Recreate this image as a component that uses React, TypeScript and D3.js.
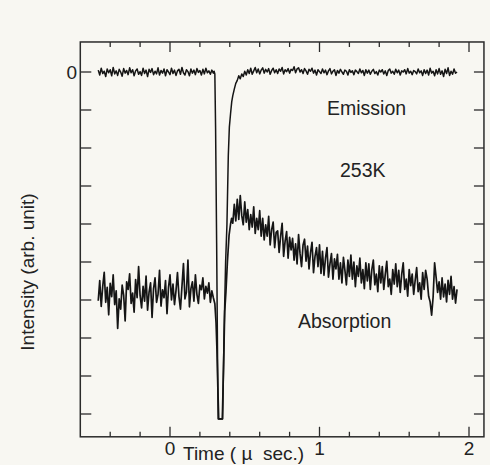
import React from "react";
import * as d3 from "d3";

const preStart = -0.48;
const postStart = 0.42;
const sampleStep = 0.01;

// Emission trace, before the flash (t = -0.48 .. 0.29)
const emissionPre = [
  0.05,-0.08,0.10,-0.04,0.02,-0.12,0.08,-0.02,0.06,-0.10,
  0.12,-0.05,0.03,-0.09,0.07,0.00,-0.11,0.09,-0.03,0.04,
  -0.07,0.11,-0.02,0.06,-0.10,0.03,0.08,-0.06,0.01,-0.09,
  0.10,-0.04,0.05,-0.12,0.07,-0.01,0.09,-0.07,0.02,-0.05,
  0.11,-0.08,0.04,-0.03,0.08,-0.10,0.06,0.00,-0.07,0.10,
  -0.04,0.05,-0.09,0.03,0.07,-0.06,0.12,-0.02,-0.08,0.06,
  0.01,-0.10,0.08,-0.03,0.05,-0.07,0.09,-0.01,0.04,-0.08,
  0.07,-0.05,0.10,-0.02,0.03,-0.06,0.05,-0.03,
];
// Emission trace through the dip: [time, value]
const emissionDip: [number, number][] = [
  [0.295, 0.02],[0.300, -0.05],[0.305, -1.5],[0.312, -4.5],[0.318, -7.5],
  [0.322, -9.13],[0.352, -9.13],[0.362, -6.8],[0.372, -5.0],[0.381, -4.0],
  [0.390, -2.2],[0.397, -1.45],[0.405, -1.1],[0.413, -0.78],
];
// Emission trace after the flash (t = 0.42 .. 1.92)
const emissionPost = [
  -0.62,-0.45,-0.30,-0.22,-0.10,-0.18,-0.05,-0.12,0.02,-0.08,
  0.06,-0.04,0.10,-0.06,0.03,0.12,-0.02,0.08,-0.05,0.05,
  0.11,-0.03,0.07,0.00,0.09,-0.06,0.04,0.10,-0.02,0.06,
  -0.04,0.08,0.02,0.12,-0.05,0.06,0.01,0.09,-0.03,0.07,
  0.04,0.14,-0.02,0.08,0.11,0.00,0.06,-0.04,0.09,0.03,
  -0.06,0.07,0.02,0.10,-0.03,0.05,-0.08,0.06,0.01,-0.04,
  0.08,-0.02,0.05,-0.07,0.03,0.09,-0.05,0.02,0.06,-0.09,
  0.04,-0.03,0.07,0.00,-0.06,0.05,0.02,-0.08,0.06,-0.01,
  0.03,-0.07,0.05,0.01,-0.04,0.08,-0.02,0.04,-0.09,0.06,
  -0.03,0.05,-0.06,0.02,0.07,-0.04,0.01,-0.08,0.05,0.00,
  0.06,-0.05,0.03,-0.09,0.04,0.08,-0.03,0.02,-0.06,0.07,
  -0.02,0.05,-0.08,0.03,0.00,0.06,-0.05,0.09,-0.03,0.02,
  -0.07,0.04,0.01,-0.05,0.08,-0.02,0.03,-0.09,0.06,-0.04,
  0.05,-0.08,0.10,-0.03,0.02,-0.10,0.06,-0.05,0.09,-0.06,
  0.03,-0.12,0.07,-0.04,0.11,-0.09,0.02,-0.06,0.08,-0.03,
  0.00,
];

// Absorption trace, before the flash (t = -0.48 .. 0.29)
const absorptionPre = [
  -6.02,-5.49,-6.17,-5.64,-5.27,-6.06,-5.67,-6.39,-5.56,-5.91,
  -5.34,-6.12,-5.76,-6.75,-5.97,-6.24,-5.61,-5.87,-6.55,-5.52,
  -5.72,-5.31,-6.09,-5.82,-6.32,-5.46,-5.94,-5.12,-5.88,-6.21,
  -5.64,-6.03,-5.37,-6.27,-5.79,-5.55,-6.46,-5.70,-5.42,-6.06,
  -5.85,-5.22,-6.16,-5.73,-5.94,-5.49,-6.36,-5.67,-5.34,-6.00,
  -5.58,-6.12,-5.76,-5.28,-5.91,-6.24,-5.64,-5.04,-5.97,-5.79,
  -4.95,-6.18,-5.70,-5.52,-6.03,-5.34,-5.85,-6.09,-5.61,-5.73,
  -5.42,-5.97,-5.64,-5.82,-5.55,-6.06,-5.76,-5.94,
];
// Absorption trace through the dip: [time, value]
const absorptionDip: [number, number][] = [
  [0.300, -6.1],[0.308, -6.6],[0.314, -7.3],[0.320, -8.3],[0.326, -9.13],
  [0.350, -9.13],[0.358, -7.8],[0.366, -6.3],[0.374, -5.8],[0.384, -5.0],
  [0.395, -4.3],[0.405, -4.0],[0.412, -3.85],
];
// Absorption trace after the flash (t = 0.42 .. 1.92)
const absorptionPost = [
  -3.98,-3.48,-3.92,-3.35,-3.88,-3.25,-3.78,-4.02,-3.42,-3.95,
  -3.62,-4.15,-3.75,-4.08,-3.55,-4.25,-3.85,-4.15,-3.65,-4.32,
  -3.85,-4.42,-4.02,-4.32,-3.80,-4.55,-4.15,-3.95,-4.62,-4.22,
  -4.18,-4.75,-4.32,-3.98,-4.85,-4.45,-4.20,-4.90,-4.35,-4.68,
  -4.38,-4.95,-4.52,-5.05,-4.28,-4.78,-5.12,-4.55,-4.40,-4.98,
  -4.58,-5.18,-4.75,-4.48,-5.28,-4.85,-4.62,-5.12,-4.55,-5.30,
  -4.72,-5.35,-4.90,-4.62,-5.40,-5.05,-4.78,-5.45,-4.92,-5.18,
  -4.80,-5.45,-5.02,-5.55,-4.88,-5.22,-5.60,-4.95,-5.38,-4.82,
  -5.45,-5.00,-5.65,-5.10,-5.38,-4.90,-5.55,-5.20,-5.70,-5.02,
  -5.50,-5.05,-5.72,-5.20,-4.95,-5.60,-5.32,-5.78,-5.10,-5.55,
  -5.12,-5.72,-5.32,-4.98,-5.65,-5.45,-5.85,-5.20,-5.58,-5.05,
  -5.65,-5.22,-5.80,-5.32,-5.02,-5.72,-5.45,-5.90,-5.20,-5.62,
  -5.32,-5.85,-5.48,-5.15,-5.78,-5.55,-5.98,-5.28,-5.72,-5.22,
  -5.45,-5.90,-6.05,-6.40,-5.92,-5.02,-5.40,-5.80,-5.52,-5.98,
  -5.42,-5.92,-5.58,-6.05,-5.48,-5.85,-5.38,-5.98,-5.65,-6.08,
  -5.72,
];

const xMajorTicks = [0, 1, 2];
const xMinorTicks = [-0.4, -0.2, 0.2, 0.4, 0.6, 0.8, 1.2, 1.4, 1.6, 1.8];
const yTicks = [0, -1, -2, -3, -4, -5, -6, -7, -8, -9];
const yTickLabels = ["0"];
const xDomain: [number, number] = [-0.6, 2.1];
const yDomain: [number, number] = [0.79, -9.6];

function buildSeries(pre: number[], dip: [number, number][], post: number[]): [number, number][] {
  const a: [number, number][] = pre.map((v, i) => [preStart + i * sampleStep, v]);
  const c: [number, number][] = post.map((v, i) => [postStart + i * sampleStep, v]);
  return [...a, ...dip, ...c];
}

export default function App() {
  const W = 490, H = 465;
  const x = d3.scaleLinear().domain([0, 2]).range([170, 469]);
  const y = d3.scaleLinear().domain([0, -9]).range([72, 414]);
  const x0 = x(xDomain[0]), x1 = x(xDomain[1]);
  const y0 = y(yDomain[0]), y1 = y(yDomain[1]);

  const line = d3.line<[number, number]>().x(d => x(d[0])).y(d => y(d[1]));
  const emission = buildSeries(emissionPre, emissionDip, emissionPost);
  const absorption = buildSeries(absorptionPre, absorptionDip, absorptionPost);

  const axisColor = "#2b2b2b";
  const textColor = "#222";
  const font = "'Liberation Sans', Arial, Helvetica, sans-serif";

  return (
    <svg width={W} height={H} style={{ position: "absolute", left: 0, top: 0, background: "#f8f7f2" }}
      fontFamily={font}>
      <rect x={0} y={0} width={W} height={H} fill="#f8f7f2" />
      {/* traces */}
      <path d={line(absorption) || ""} fill="none" stroke="#151515" strokeWidth={1.7} strokeLinejoin="round" />
      <path d={line(emission) || ""} fill="none" stroke="#151515" strokeWidth={1.5} strokeLinejoin="round" />
      {/* frame */}
      <rect x={x0} y={y0} width={x1 - x0} height={y1 - y0} fill="none" stroke={axisColor} strokeWidth={1.5} />
      {/* x ticks */}
      {xMajorTicks.map(t => (
        <g key={"M" + t}>
          <line x1={x(t)} x2={x(t)} y1={y1} y2={y1 - 10} stroke={axisColor} strokeWidth={1.3} />
          <line x1={x(t)} x2={x(t)} y1={y0} y2={y0 + 10} stroke={axisColor} strokeWidth={1.3} />
          <text x={x(t)} y={455} textAnchor="middle" fontSize={19} fill={textColor}>{String(t)}</text>
        </g>
      ))}
      {xMinorTicks.map(t => (
        <g key={"m" + t}>
          <line x1={x(t)} x2={x(t)} y1={y1} y2={y1 - 5} stroke={axisColor} strokeWidth={1.3} />
          <line x1={x(t)} x2={x(t)} y1={y0} y2={y0 + 5} stroke={axisColor} strokeWidth={1.3} />
        </g>
      ))}
      {/* y ticks */}
      {yTicks.map((t, i) => (
        <g key={"y" + t}>
          <line x1={x0} x2={x0 + 11} y1={y(t)} y2={y(t)} stroke={axisColor} strokeWidth={1.3} />
          <line x1={x1} x2={x1 - 10} y1={y(t)} y2={y(t)} stroke={axisColor} strokeWidth={1.3} />
          {yTickLabels[i] !== undefined && (
            <text x={77} y={y(t) + 7} textAnchor="end" fontSize={19} fill={textColor}>{yTickLabels[i]}</text>
          )}
        </g>
      ))}
      {/* annotations */}
      <text x={327} y={115} fontSize={19.5} fill={textColor}>Emission</text>
      <text x={340} y={177} fontSize={19.5} fill={textColor}>253K</text>
      <text x={298} y={328} fontSize={19.5} fill={textColor}>Absorption</text>
      {/* axis titles */}
      <text x={183} y={460} fontSize={19} fill={textColor} style={{ whiteSpace: "pre" }}>{"Time ( \u00b5  sec.)"}</text>
      <text transform="translate(34,272) rotate(-90)" textAnchor="middle" fontSize={19} fill={textColor}>
        Intensity (arb. unit)
      </text>
    </svg>
  );
}
